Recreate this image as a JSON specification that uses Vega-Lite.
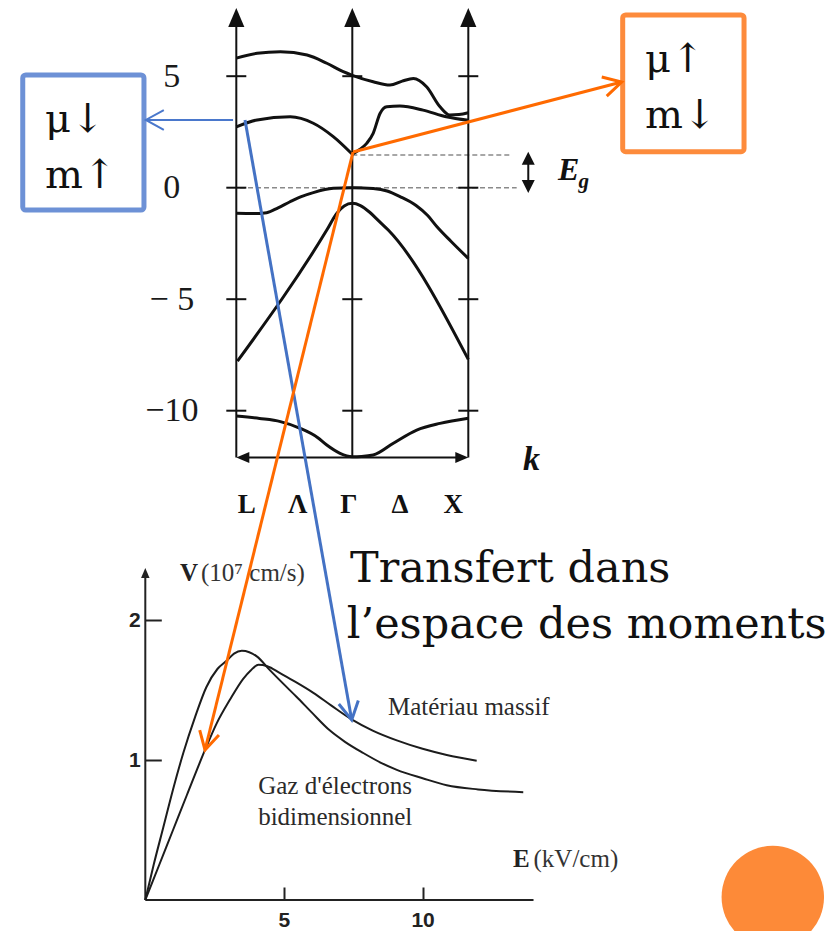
{
  "$schema": "https://vega.github.io/schema/vega-lite/v6.json",
  "width": 835,
  "height": 931,
  "autosize": {"type": "none"},
  "padding": 0,
  "background": "white",
  "config": {"view": {"stroke": null}},
  "datasets": {
    "bandCurves": [
      {"band": "c1", "k": -1, "E": 5.81}, {"band": "c1", "k": -0.82, "E": 6.03}, {"band": "c1", "k": -0.62, "E": 6.1}, {"band": "c1", "k": -0.39, "E": 5.95}, {"band": "c1", "k": -0.22, "E": 5.58}, {"band": "c1", "k": -0.078, "E": 5.2}, {"band": "c1", "k": 0, "E": 5.04}, {"band": "c1", "k": 0.18, "E": 4.75}, {"band": "c1", "k": 0.325, "E": 4.6}, {"band": "c1", "k": 0.43, "E": 4.78}, {"band": "c1", "k": 0.527, "E": 4.9}, {"band": "c1", "k": 0.64, "E": 4.53}, {"band": "c1", "k": 0.756, "E": 3.63}, {"band": "c1", "k": 0.84, "E": 3.26}, {"band": "c1", "k": 0.92, "E": 3.28}, {"band": "c1", "k": 1, "E": 3.36},
      {"band": "c2", "k": -1, "E": 2.73}, {"band": "c2", "k": -0.82, "E": 3.04}, {"band": "c2", "k": -0.535, "E": 3.18}, {"band": "c2", "k": -0.336, "E": 2.89}, {"band": "c2", "k": -0.164, "E": 2.29}, {"band": "c2", "k": 0, "E": 1.5},
      {"band": "c3", "k": 0, "E": 1.5}, {"band": "c3", "k": 0.06, "E": 1.7}, {"band": "c3", "k": 0.124, "E": 1.99}, {"band": "c3", "k": 0.18, "E": 2.44}, {"band": "c3", "k": 0.24, "E": 3.34}, {"band": "c3", "k": 0.297, "E": 3.63}, {"band": "c3", "k": 0.41, "E": 3.66}, {"band": "c3", "k": 0.61, "E": 3.48}, {"band": "c3", "k": 0.81, "E": 3.18}, {"band": "c3", "k": 1, "E": 3.02},
      {"band": "v1", "k": -1, "E": -1.15}, {"band": "v1", "k": -0.85, "E": -1.16}, {"band": "v1", "k": -0.738, "E": -1.12}, {"band": "v1", "k": -0.64, "E": -0.9}, {"band": "v1", "k": -0.537, "E": -0.63}, {"band": "v1", "k": -0.44, "E": -0.4}, {"band": "v1", "k": -0.336, "E": -0.22}, {"band": "v1", "k": -0.164, "E": -0.03}, {"band": "v1", "k": 0, "E": 0}, {"band": "v1", "k": 0.18, "E": -0.04}, {"band": "v1", "k": 0.3, "E": -0.15}, {"band": "v1", "k": 0.411, "E": -0.4}, {"band": "v1", "k": 0.55, "E": -0.8}, {"band": "v1", "k": 0.65, "E": -1.25}, {"band": "v1", "k": 0.73, "E": -1.75}, {"band": "v1", "k": 0.85, "E": -2.4}, {"band": "v1", "k": 1, "E": -3.17},
      {"band": "v2", "k": -0.99, "E": -7.78}, {"band": "v2", "k": -0.22, "E": -1.9}, {"band": "v2", "k": -0.134, "E": -1.15}, {"band": "v2", "k": -0.07, "E": -0.82}, {"band": "v2", "k": 0, "E": -0.7}, {"band": "v2", "k": 0.07, "E": -0.8}, {"band": "v2", "k": 0.15, "E": -1.1}, {"band": "v2", "k": 0.23, "E": -1.5}, {"band": "v2", "k": 0.31, "E": -1.9}, {"band": "v2", "k": 1, "E": -7.7},
      {"band": "s", "k": -1, "E": -10.24}, {"band": "s", "k": -0.8, "E": -10.35}, {"band": "s", "k": -0.62, "E": -10.49}, {"band": "s", "k": -0.45, "E": -10.79}, {"band": "s", "k": -0.3, "E": -11.2}, {"band": "s", "k": -0.22, "E": -11.54}, {"band": "s", "k": -0.106, "E": -11.91}, {"band": "s", "k": 0, "E": -12.06}, {"band": "s", "k": 0.08, "E": -12.05}, {"band": "s", "k": 0.18, "E": -11.99}, {"band": "s", "k": 0.354, "E": -11.46}, {"band": "s", "k": 0.555, "E": -10.87}, {"band": "s", "k": 0.756, "E": -10.57}, {"band": "s", "k": 1, "E": -10.34}
    ],
    "bandFrame": [
      {"line": "L", "k": -1, "E": -12.1, "k2": -1, "E2": 7.3},
      {"line": "Γ", "k": 0, "E": -12.1, "k2": 0, "E2": 7.3},
      {"line": "X", "k": 1, "E": -12.1, "k2": 1, "E2": 7.3},
      {"line": "k", "k": -0.97, "E": -12.1, "k2": 0.97, "E2": -12.1},
      {"line": "Eg", "k": 1.517, "E": -0.05, "k2": 1.517, "E2": 1.4}
    ],
    "bandHeads": [
      {"dir": "up", "k": -1, "E": 8.06}, {"dir": "up", "k": 0, "E": 8.06}, {"dir": "up", "k": 1, "E": 8.06},
      {"dir": "left", "k": -1, "E": -12.1}, {"dir": "right", "k": 1, "E": -12.1},
      {"dir": "gapUp", "k": 1.517, "E": 1.614}, {"dir": "gapDown", "k": 1.517, "E": -0.238}
    ],
    "bandTicks": [
      {"k": -1, "E": 5}, {"k": -1, "E": 0}, {"k": -1, "E": -5}, {"k": -1, "E": -10},
      {"k": 0, "E": 5}, {"k": 0, "E": 0}, {"k": 0, "E": -5}, {"k": 0, "E": -10},
      {"k": 1, "E": 5}, {"k": 1, "E": 0}, {"k": 1, "E": -5}, {"k": 1, "E": -10}
    ],
    "levels": [
      {"level": "conduction minimum", "k": 0, "k2": 1.36, "E": 1.47},
      {"level": "valence maximum", "k": -0.968, "k2": 1.417, "E": 0}
    ],
    "bandText": [
      {"role": "point", "label": "L", "k": -0.91, "E": -14.23},
      {"role": "point", "label": "Λ", "k": -0.47, "E": -14.23},
      {"role": "point", "label": "Γ", "k": -0.03, "E": -14.23},
      {"role": "point", "label": "Δ", "k": 0.41, "E": -14.23},
      {"role": "point", "label": "X", "k": 0.87, "E": -14.23},
      {"role": "axis", "label": "k", "k": 1.472, "E": -12.66},
      {"role": "gap", "label": "E", "k": 1.773, "E": 0.345},
      {"role": "sub", "label": "g", "k": 1.95, "E": -0.0135}
    ],
    "velocity": [
      {"material": "2DEG", "F": 0, "V": 0}, {"material": "2DEG", "F": 0.3, "V": 0.25}, {"material": "2DEG", "F": 0.65, "V": 0.52}, {"material": "2DEG", "F": 1.0, "V": 0.79}, {"material": "2DEG", "F": 1.37, "V": 1.05}, {"material": "2DEG", "F": 1.8, "V": 1.31}, {"material": "2DEG", "F": 2.2, "V": 1.52}, {"material": "2DEG", "F": 2.6, "V": 1.65}, {"material": "2DEG", "F": 2.94, "V": 1.71}, {"material": "2DEG", "F": 3.2, "V": 1.76}, {"material": "2DEG", "F": 3.48, "V": 1.78}, {"material": "2DEG", "F": 3.75, "V": 1.77}, {"material": "2DEG", "F": 4.02, "V": 1.74}, {"material": "2DEG", "F": 4.5, "V": 1.64}, {"material": "2DEG", "F": 5.0, "V": 1.54}, {"material": "2DEG", "F": 5.46, "V": 1.45}, {"material": "2DEG", "F": 6.0, "V": 1.34}, {"material": "2DEG", "F": 6.66, "V": 1.21}, {"material": "2DEG", "F": 7.2, "V": 1.13}, {"material": "2DEG", "F": 7.86, "V": 1.05}, {"material": "2DEG", "F": 8.5, "V": 0.98}, {"material": "2DEG", "F": 9.07, "V": 0.93}, {"material": "2DEG", "F": 10.0, "V": 0.87}, {"material": "2DEG", "F": 10.87, "V": 0.82}, {"material": "2DEG", "F": 12.0, "V": 0.79}, {"material": "2DEG", "F": 13.63, "V": 0.77},
      {"material": "massif", "F": 0, "V": 0}, {"material": "massif", "F": 0.5, "V": 0.25}, {"material": "massif", "F": 1.0, "V": 0.5}, {"material": "massif", "F": 1.5, "V": 0.75}, {"material": "massif", "F": 2.15, "V": 1.07}, {"material": "massif", "F": 2.57, "V": 1.26}, {"material": "massif", "F": 3.05, "V": 1.43}, {"material": "massif", "F": 3.53, "V": 1.58}, {"material": "massif", "F": 3.8, "V": 1.64}, {"material": "massif", "F": 4.08, "V": 1.68}, {"material": "massif", "F": 4.4, "V": 1.67}, {"material": "massif", "F": 4.86, "V": 1.62}, {"material": "massif", "F": 5.4, "V": 1.56}, {"material": "massif", "F": 6.06, "V": 1.48}, {"material": "massif", "F": 6.7, "V": 1.39}, {"material": "massif", "F": 7.44, "V": 1.29}, {"material": "massif", "F": 8.2, "V": 1.21}, {"material": "massif", "F": 9.07, "V": 1.14}, {"material": "massif", "F": 10.0, "V": 1.08}, {"material": "massif", "F": 10.87, "V": 1.036}, {"material": "massif", "F": 11.95, "V": 0.995}
    ],
    "velocityFrame": [
      {"line": "V", "F": 0, "V": 0, "F2": 0, "V2": 2.33},
      {"line": "E", "F": 0, "V": 0, "F2": 14, "V2": 0}
    ],
    "velocityHeads": [{"dir": "up", "F": 0, "V": 2.371}],
    "velocityTitles": [
      {"role": "bold", "label": "V", "F": 1.25, "V": 2.279},
      {"role": "plain", "label": "(10⁷ cm/s)", "F": 2.01, "V": 2.279},
      {"role": "bold", "label": "E", "F": 13.26, "V": 0.236},
      {"role": "plain", "label": "(kV/cm)", "F": 14.0, "V": 0.236},
      {"role": "curve", "label": "Matériau massif", "F": 8.75, "V": 1.321},
      {"role": "curve", "label": "Gaz d'électrons", "F": 4.07, "V": 0.757},
      {"role": "curve", "label": "bidimensionnel", "F": 4.07, "V": 0.536}
    ],
    "valleys": [
      {"valley": "L", "k": -2.841, "k2": -1.796, "E": 5.054, "E2": -1.0},
      {"valley": "Γ", "k": 2.331, "k2": 3.377, "E": 7.744, "E2": 1.614}
    ],
    "valleyText": [
      {"valley": "L", "label": "μ↓", "k": -2.649, "E": 2.511},
      {"valley": "L", "label": "m↑", "k": -2.649, "E": -0.027},
      {"valley": "Γ", "label": "μ↑", "k": 2.523, "E": 5.202},
      {"valley": "Γ", "label": "m↓", "k": 2.523, "E": 2.664}
    ],
    "arrows": [
      {"valley": "L", "target": "box", "k": -1.028, "E": 3.036, "k2": -1.78, "E2": 3.036},
      {"valley": "L", "target": "curve", "k": -0.925, "E": 3.036, "k2": -0.005, "E2": -23.87},
      {"valley": "Γ", "target": "box", "k": 0.006, "E": 1.6, "k2": 2.322, "E2": 4.74},
      {"valley": "Γ", "target": "curve", "k": 0.006, "E": 1.6, "k2": -1.27, "E2": -25.215}
    ],
    "arrowTips": [
      {"valley": "L", "target": "box", "k": -1.78, "E": 3.036},
      {"valley": "L", "target": "curve", "k": -0.005, "E": -23.87},
      {"valley": "Γ", "target": "box", "k": 2.322, "E": 4.74},
      {"valley": "Γ", "target": "curve", "k": -1.27, "E": -25.215}
    ],
    "caption": [
      {"label": "Transfert dans", "k": -0.0198, "E": -17.668},
      {"label": "l’espace des moments", "k": -0.048, "E": -20.193}
    ],
    "badge": [{"k": 3.625, "E": -31.81}]
  },
  "layer": [
    {
      "encoding": {
        "x": {"field": "k", "type": "quantitative", "scale": {"domain": [-3.0371, 4.1612], "nice": false, "zero": false}, "axis": null},
        "y": {
          "field": "E", "type": "quantitative",
          "scale": {"domain": [-33.332, 8.417], "nice": false, "zero": false},
          "axis": {
            "orient": "left", "offset": -236.3, "values": [5, 0, -5, -10],
            "domain": false, "ticks": false, "tickSize": 0, "grid": false, "title": null,
            "labelPadding": 65, "labelAlign": "center", "labelBaseline": "middle",
            "labelFont": "Liberation Serif", "labelFontSize": 34, "labelColor": "#1a1a1a",
            "labelBound": false, "labelFlush": false, "labelOverlap": false,
            "labelExpr": "datum.value == -5 ? '− 5' : datum.value == -10 ? '−10' : datum.label"
          }
        }
      },
      "layer": [
        {
          "data": {"name": "levels"},
          "mark": {"type": "rule", "stroke": "#8a8a8a", "strokeWidth": 1.5, "strokeDash": [5, 3]},
          "encoding": {"x2": {"field": "k2"}}
        },
        {
          "data": {"name": "bandFrame"},
          "mark": {"type": "rule", "stroke": "#111", "strokeWidth": 2},
          "encoding": {"x2": {"field": "k2"}, "y2": {"field": "E2"}}
        },
        {
          "data": {"name": "bandTicks"},
          "mark": {"type": "tick", "orient": "horizontal", "size": 20, "thickness": 2, "color": "#111", "opacity": 1}
        },
        {
          "data": {"name": "bandCurves"},
          "mark": {"type": "line", "stroke": "#111", "strokeWidth": 3, "interpolate": "monotone"},
          "encoding": {"detail": {"field": "band"}}
        },
        {
          "data": {"name": "bandHeads"},
          "transform": [{"filter": "datum.dir == 'up'"}],
          "mark": {"type": "point", "shape": "M0,0L0.85,2L-0.85,2Z", "size": 361, "filled": true, "color": "#111", "opacity": 1}
        },
        {
          "data": {"name": "bandHeads"},
          "transform": [{"filter": "datum.dir == 'right'"}],
          "mark": {"type": "point", "shape": "M0,0L0.85,2L-0.85,2Z", "size": 169, "angle": 90, "filled": true, "color": "#111", "opacity": 1}
        },
        {
          "data": {"name": "bandHeads"},
          "transform": [{"filter": "datum.dir == 'left'"}],
          "mark": {"type": "point", "shape": "M0,0L0.85,2L-0.85,2Z", "size": 169, "angle": 270, "filled": true, "color": "#111", "opacity": 1}
        },
        {
          "data": {"name": "bandHeads"},
          "transform": [{"filter": "datum.dir == 'gapUp'"}],
          "mark": {"type": "point", "shape": "M0,0L1,2L-1,2Z", "size": 169, "filled": true, "color": "#111", "opacity": 1}
        },
        {
          "data": {"name": "bandHeads"},
          "transform": [{"filter": "datum.dir == 'gapDown'"}],
          "mark": {"type": "point", "shape": "M0,0L1,2L-1,2Z", "size": 169, "angle": 180, "filled": true, "color": "#111", "opacity": 1}
        },
        {
          "data": {"name": "bandText"},
          "transform": [{"filter": "datum.role == 'point'"}],
          "mark": {"type": "text", "font": "Liberation Serif", "fontWeight": "bold", "fontSize": 27, "align": "center", "baseline": "middle", "color": "#111"},
          "encoding": {"text": {"field": "label"}}
        },
        {
          "data": {"name": "bandText"},
          "transform": [{"filter": "datum.role == 'axis'"}],
          "mark": {"type": "text", "font": "Liberation Serif", "fontWeight": "bold", "fontStyle": "italic", "fontSize": 34, "align": "left", "baseline": "alphabetic", "color": "#111"},
          "encoding": {"text": {"field": "label"}}
        },
        {
          "data": {"name": "bandText"},
          "transform": [{"filter": "datum.role == 'gap'"}],
          "mark": {"type": "text", "font": "Liberation Serif", "fontWeight": "bold", "fontStyle": "italic", "fontSize": 32, "align": "left", "baseline": "alphabetic", "color": "#111"},
          "encoding": {"text": {"field": "label"}}
        },
        {
          "data": {"name": "bandText"},
          "transform": [{"filter": "datum.role == 'sub'"}],
          "mark": {"type": "text", "font": "Liberation Serif", "fontWeight": "bold", "fontStyle": "italic", "fontSize": 21, "align": "left", "baseline": "alphabetic", "color": "#111"},
          "encoding": {"text": {"field": "label"}}
        }
      ]
    },
    {
      "encoding": {
        "x": {
          "field": "F", "type": "quantitative",
          "scale": {"domain": [-5.24, 24.872], "nice": false, "zero": false},
          "axis": {
            "orient": "bottom", "offset": -31, "values": [5, 10], "format": "d",
            "domain": false, "grid": false, "title": null,
            "ticks": true, "tickSize": -13, "tickWidth": 2, "tickColor": "#222",
            "labelPadding": 33, "labelBaseline": "middle", "labelAlign": "center",
            "labelFont": "Liberation Sans", "labelFontWeight": "bold", "labelFontSize": 21, "labelColor": "#222",
            "labelBound": false, "labelFlush": false, "labelOverlap": false
          }
        },
        "y": {
          "field": "V", "type": "quantitative",
          "scale": {"domain": [-0.2214, 6.4286], "nice": false, "zero": false},
          "axis": {
            "orient": "left", "offset": -145.3, "values": [1, 2], "format": "d",
            "domain": false, "grid": false, "title": null,
            "ticks": true, "tickSize": -16, "tickWidth": 2, "tickColor": "#222",
            "labelPadding": 27, "labelBaseline": "middle", "labelAlign": "center",
            "labelFont": "Liberation Sans", "labelFontWeight": "bold", "labelFontSize": 21, "labelColor": "#222",
            "labelBound": false, "labelFlush": false, "labelOverlap": false
          }
        }
      },
      "layer": [
        {
          "data": {"name": "velocityFrame"},
          "mark": {"type": "rule", "stroke": "#222", "strokeWidth": 2},
          "encoding": {"x2": {"field": "F2"}, "y2": {"field": "V2"}}
        },
        {
          "data": {"name": "velocityHeads"},
          "mark": {"type": "point", "shape": "M0,0L0.85,2L-0.85,2Z", "size": 100, "filled": true, "color": "#222", "opacity": 1}
        },
        {
          "data": {"name": "velocity"},
          "mark": {"type": "line", "stroke": "#1c1c1c", "strokeWidth": 2, "interpolate": "monotone"},
          "encoding": {"detail": {"field": "material"}}
        },
        {
          "data": {"name": "velocityTitles"},
          "transform": [{"filter": "datum.role == 'bold'"}],
          "mark": {"type": "text", "font": "Liberation Serif", "fontWeight": "bold", "fontSize": 25, "align": "left", "baseline": "alphabetic", "color": "#222"},
          "encoding": {"text": {"field": "label"}}
        },
        {
          "data": {"name": "velocityTitles"},
          "transform": [{"filter": "datum.role == 'plain'"}],
          "mark": {"type": "text", "font": "Liberation Serif", "fontSize": 25, "align": "left", "baseline": "alphabetic", "color": "#333"},
          "encoding": {"text": {"field": "label"}}
        },
        {
          "data": {"name": "velocityTitles"},
          "transform": [{"filter": "datum.role == 'curve'"}],
          "mark": {"type": "text", "font": "Liberation Serif", "fontSize": 25, "align": "left", "baseline": "alphabetic", "color": "#2a2a2a"},
          "encoding": {"text": {"field": "label"}}
        }
      ]
    },
    {
      "encoding": {
        "x": {"field": "k", "type": "quantitative", "scale": {"domain": [-3.0371, 4.1612], "nice": false, "zero": false}, "axis": null},
        "y": {"field": "E", "type": "quantitative", "scale": {"domain": [-33.332, 8.417], "nice": false, "zero": false}, "axis": null}
      },
      "layer": [
        {
          "data": {"name": "valleys"},
          "mark": {"type": "rect", "fill": "white", "strokeWidth": 5, "cornerRadius": 3},
          "encoding": {
            "x2": {"field": "k2"}, "y2": {"field": "E2"},
            "stroke": {"field": "valley", "type": "nominal", "scale": {"domain": ["L", "Γ"], "range": ["#6d91d6", "#fd8b3c"]}, "legend": null}
          }
        },
        {
          "data": {"name": "valleyText"},
          "mark": {"type": "text", "font": "DejaVu Serif", "fontSize": 40, "align": "left", "baseline": "alphabetic", "color": "#111"},
          "encoding": {"text": {"field": "label"}}
        },
        {
          "data": {"name": "caption"},
          "mark": {"type": "text", "font": "DejaVu Serif", "fontSize": 43, "align": "left", "baseline": "alphabetic", "color": "#111"},
          "encoding": {"text": {"field": "label"}}
        },
        {
          "data": {"name": "arrows"},
          "transform": [{"filter": "datum.valley == 'L' && datum.target == 'box'"}],
          "mark": {"type": "rule", "stroke": "#4a78cc", "strokeWidth": 2},
          "encoding": {"x2": {"field": "k2"}, "y2": {"field": "E2"}}
        },
        {
          "data": {"name": "arrows"},
          "transform": [{"filter": "datum.valley == 'L' && datum.target == 'curve'"}],
          "mark": {"type": "rule", "stroke": "#4472c4", "strokeWidth": 3},
          "encoding": {"x2": {"field": "k2"}, "y2": {"field": "E2"}}
        },
        {
          "data": {"name": "arrows"},
          "transform": [{"filter": "datum.valley == 'Γ'"}],
          "mark": {"type": "rule", "stroke": "#ff6a00", "strokeWidth": 3},
          "encoding": {"x2": {"field": "k2"}, "y2": {"field": "E2"}}
        },
        {
          "data": {"name": "arrowTips"},
          "transform": [{"filter": "datum.valley == 'L' && datum.target == 'box'"}],
          "mark": {"type": "point", "shape": "M-1,-0.55L0,0L-1,0.55", "size": 1296, "angle": 180, "filled": false, "stroke": "#4a78cc", "strokeWidth": 2, "opacity": 1}
        },
        {
          "data": {"name": "arrowTips"},
          "transform": [{"filter": "datum.valley == 'L' && datum.target == 'curve'"}],
          "mark": {"type": "point", "shape": "M-1,-0.55L0,0L-1,0.55", "size": 1296, "angle": 79.9, "filled": false, "stroke": "#4472c4", "strokeWidth": 3, "opacity": 1}
        },
        {
          "data": {"name": "arrowTips"},
          "transform": [{"filter": "datum.valley == 'Γ' && datum.target == 'box'"}],
          "mark": {"type": "point", "shape": "M-1,-0.55L0,0L-1,0.55", "size": 1296, "angle": 345.4, "filled": false, "stroke": "#ff6a00", "strokeWidth": 3, "opacity": 1}
        },
        {
          "data": {"name": "arrowTips"},
          "transform": [{"filter": "datum.valley == 'Γ' && datum.target == 'curve'"}],
          "mark": {"type": "point", "shape": "M-1,-0.55L0,0L-1,0.55", "size": 1296, "angle": 103.9, "filled": false, "stroke": "#ff6a00", "strokeWidth": 3, "opacity": 1}
        },
        {
          "data": {"name": "badge"},
          "mark": {"type": "point", "shape": "circle", "size": 10495, "filled": true, "color": "#fd8a38", "opacity": 1}
        }
      ]
    }
  ],
  "resolve": {"scale": {"x": "independent", "y": "independent"}}
}
